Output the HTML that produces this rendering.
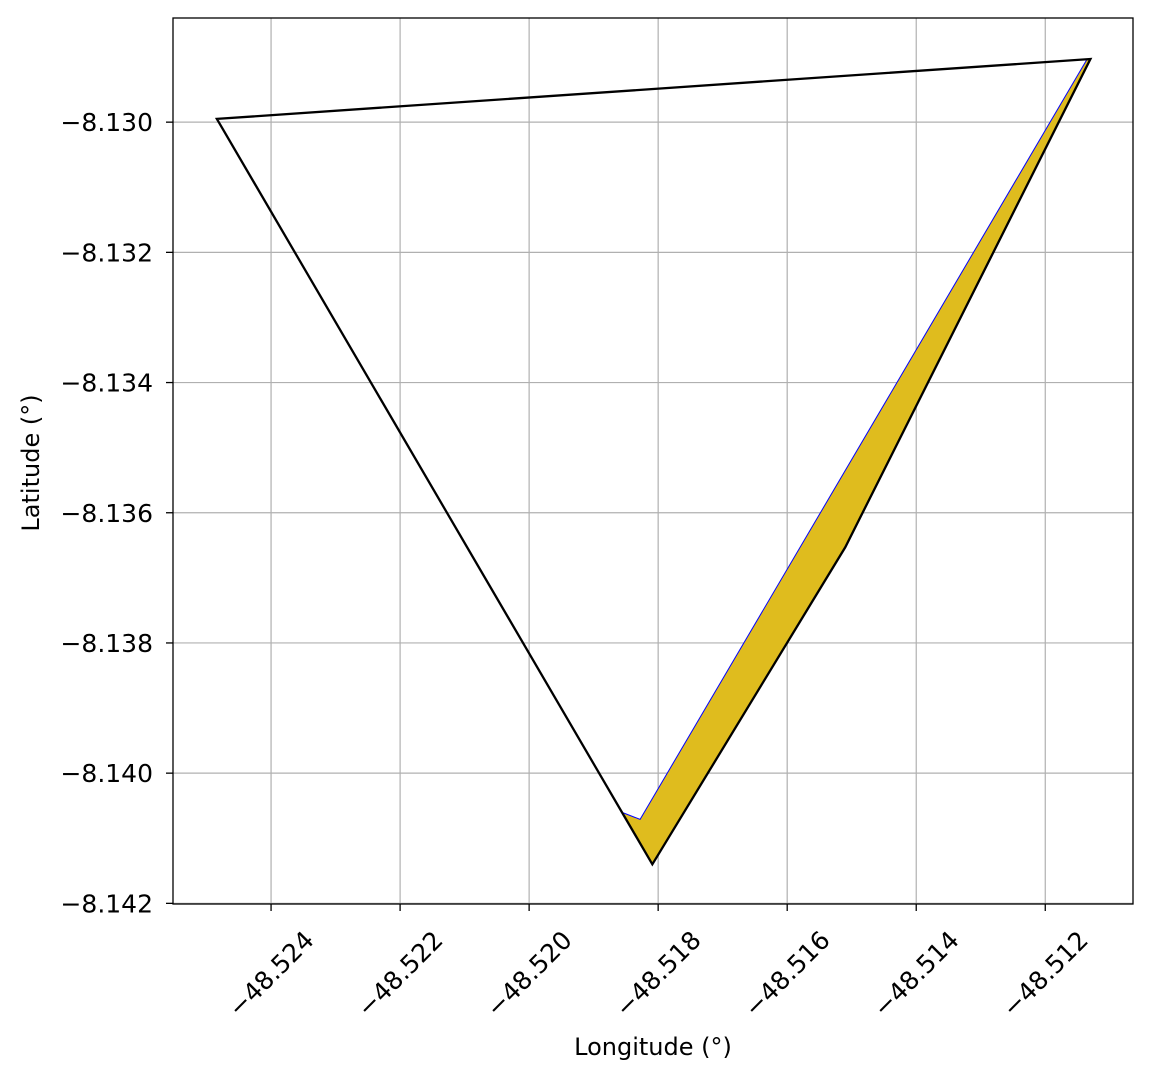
<!DOCTYPE html>
<html><head><meta charset="utf-8"><style>
body{margin:0;background:#fff;}
svg text{font-family:"DejaVu Sans","Liberation Sans",sans-serif;fill:#000;}
</style></head><body>
<svg id="chart" width="1153" height="1080" xmlns="http://www.w3.org/2000/svg"></svg>
<script>
const xTicks=[-48.524,-48.522,-48.520,-48.518,-48.516,-48.514,-48.512];
const yTicks=[-8.130,-8.132,-8.134,-8.136,-8.138,-8.140,-8.142];
const outlineLon=[-48.52484,-48.51130,-48.51510,-48.51809];
const outlineLat=[-8.12995,-8.12903,-8.13653,-8.14140];
const fillLon=[-48.51854,-48.51828,-48.51135,-48.51130,-48.51510,-48.51809];
const fillLat=[-8.14061,-8.14071,-8.12903,-8.12903,-8.13653,-8.14140];
const blueLon=[-48.51854,-48.51828,-48.51135];
const blueLat=[-8.14061,-8.14071,-8.12903];

const L=173,R=1133,T=18,B=904;
const x0=-48.52552,x1=-48.51064,y0=-8.14201,y1=-8.12840;
const X=v=>L+(v-x0)/(x1-x0)*(R-L);
const Y=v=>B-(v-y0)/(y1-y0)*(B-T);
const svg=document.getElementById('chart');
const NS='http://www.w3.org/2000/svg';
function mk(t,a){const e=document.createElementNS(NS,t);for(const k in a)e.setAttribute(k,a[k]);svg.appendChild(e);return e;}
const fmt=v=>'\u2212'+Math.abs(v).toFixed(3);

xTicks.forEach(v=>{const x=X(v);
 let g=mk('line',{x1:x,x2:x,y1:T,y2:B,stroke:'#b0b0b0','stroke-width':1.2});
 
 
 mk('line',{x1:x,x2:x,y1:B,y2:B+7,stroke:'#000','stroke-width':1.3});
 let t=mk('text',{x:x,y:974,'font-size':25,'text-anchor':'middle','dominant-baseline':'central',transform:`rotate(-45 ${x} 974)`});
 t.textContent=fmt(v);
 
 
});
yTicks.forEach(v=>{const y=Y(v);
 let g=mk('line',{x1:L,x2:R,y1:y,y2:y,stroke:'#b0b0b0','stroke-width':1.2});
 
 
 mk('line',{x1:L-7,x2:L,y1:y,y2:y,stroke:'#000','stroke-width':1.3});
 let t=mk('text',{x:L-20,y:y+9,'font-size':25,'text-anchor':'end'});
 t.textContent=fmt(v);
 
 
});
const pts=(a,b)=>a.map((v,i)=>X(v)+','+Y(b[i])).join(' ');
let f=mk('polygon',{points:pts(fillLon,fillLat),fill:'#dfbc1e',stroke:'none'});


let bl=mk('polyline',{points:pts(blueLon,blueLat),fill:'none',stroke:'#0000ff','stroke-width':1});


let o=mk('polygon',{points:pts(outlineLon,outlineLat),fill:'none',stroke:'#000','stroke-width':2.3,'stroke-linejoin':'miter'});


let fr=mk('rect',{x:L,y:T,width:R-L,height:B-T,fill:'none',stroke:'#000','stroke-width':1.3});


let xl=mk('text',{x:(L+R)/2,y:1055,'font-size':24,'text-anchor':'middle'});
xl.textContent='Longitude (°)';


let yl=mk('text',{x:39,y:(T+B)/2+2,'font-size':24,'text-anchor':'middle',transform:`rotate(-90 39 ${(T+B)/2+2})`});
yl.textContent='Latitude (°)';


</script>
</body></html>
